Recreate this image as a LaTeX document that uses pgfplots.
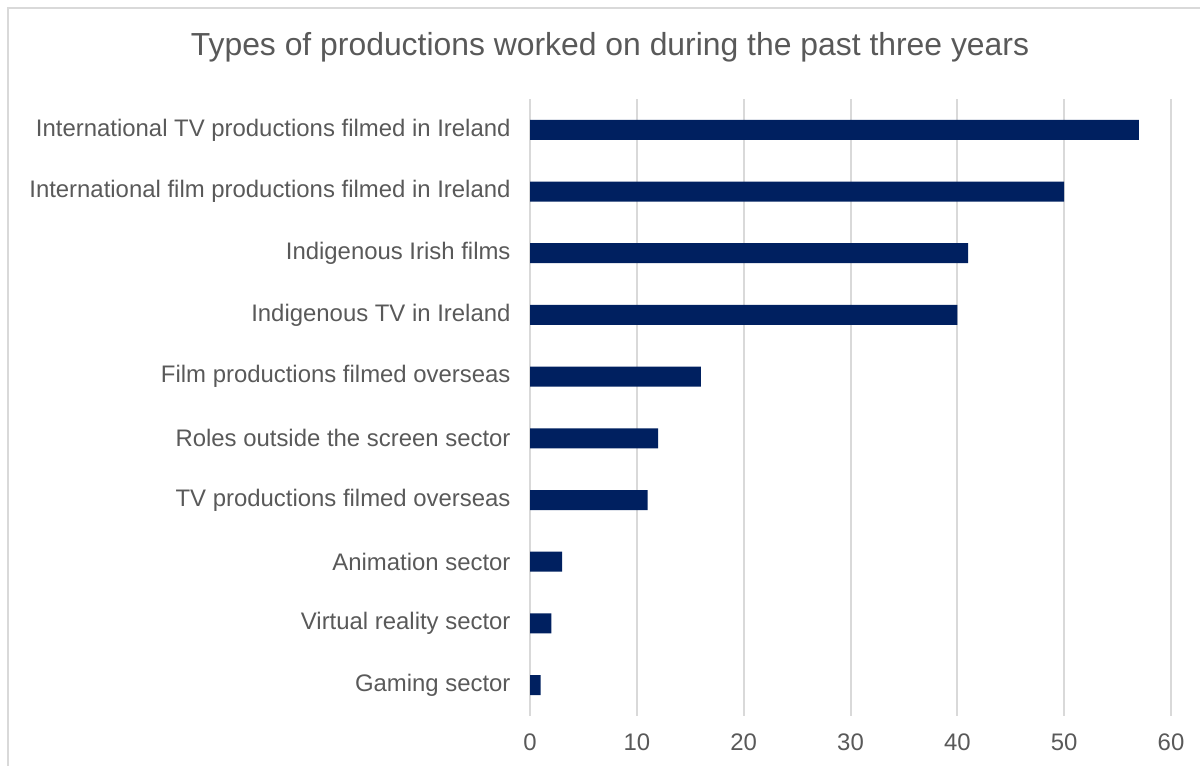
\documentclass[border=0pt]{standalone}
\usepackage{pgfplots}
\pgfplotsset{compat=1.18}
\usepackage{fontspec}
\setmainfont{Liberation Sans}
\definecolor{barnavy}{HTML}{002060}
\definecolor{txtgray}{HTML}{595959}
\definecolor{gridgray}{HTML}{D9D9D9}

\begin{document}
\begin{tikzpicture}[x=1bp,y=1bp]
  \useasboundingbox (0,0) rectangle (1200,766);
  % chart frame (cropped on right and bottom)
  \draw[gridgray, line width=1.5bp] (8,-5) -- (8,758) -- (1205,758);
  \node[txtgray, font=\fontsize{32}{36}\selectfont] at (610,719)
    {Types of productions worked on during the past three years};
  \begin{axis}[
      at={(530bp,50bp)}, anchor=south west,
      scale only axis,
      width=641bp, height=617bp,
      xbar, bar width=20bp, bar shift=0pt,
      xmin=0, xmax=60,
      ymin=-0.5, ymax=9.5,
      xtick={0,10,...,60},
      ytick={0,...,9},
      yticklabels={Gaming sector, Virtual reality sector, Animation sector,
        TV productions filmed overseas, Roles outside the screen sector,
        Film productions filmed overseas, Indigenous TV in Ireland,
        Indigenous Irish films, International film productions filmed in Ireland,
        International TV productions filmed in Ireland},
      axis line style={draw=none},
      major tick length=0pt,
      xmajorgrids,
      major grid style={gridgray, line width=2bp},
      tick label style={txtgray, font=\fontsize{24}{27}\selectfont},
      xticklabel style={yshift=-14bp},
      yticklabel style={xshift=-16bp},
      /pgf/number format/assume math mode=true,
    ]
    \addplot[fill=barnavy, draw=none] coordinates {
      (1,0) (2,1) (3,2) (11,3) (12,4) (16,5) (40,6) (41,7) (50,8) (57,9)
    };
  \end{axis}
\end{tikzpicture}
\end{document}
